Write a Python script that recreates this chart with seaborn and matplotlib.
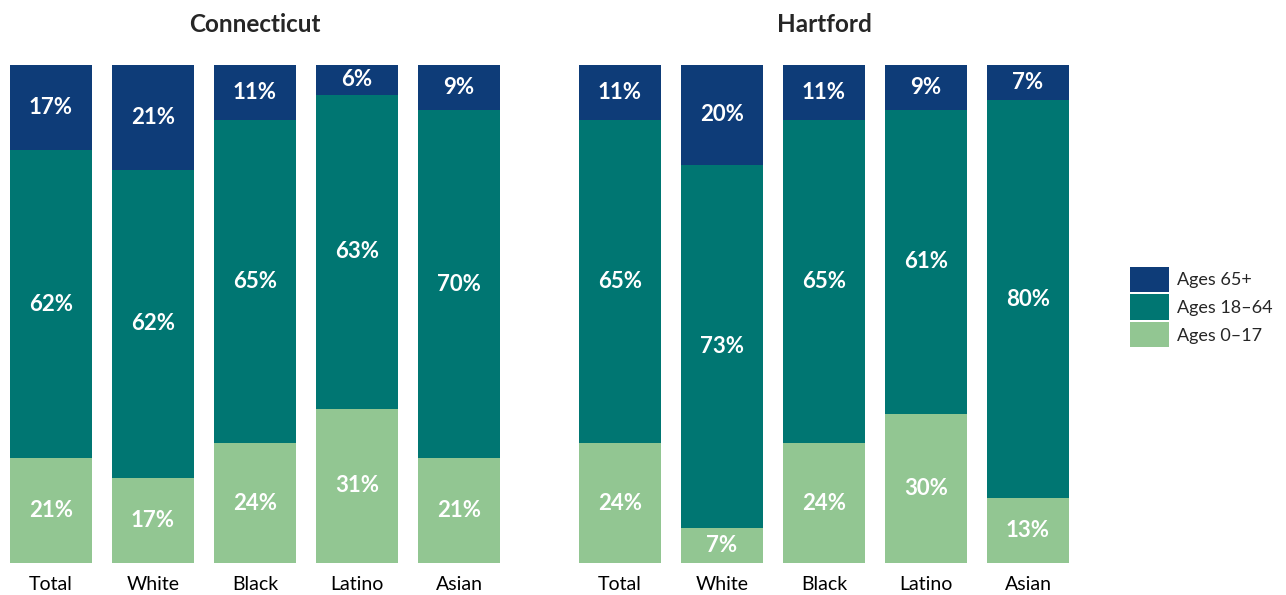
import matplotlib
matplotlib.use("Agg")
import matplotlib.pyplot as plt
import matplotlib.patches as mpatches
import pandas as pd
import seaborn as sns

groups = ["Total", "White", "Black", "Latino", "Asian"]
ct_0_17 = [21, 17, 24, 31, 21]
ct_18_64 = [62, 62, 65, 63, 70]
ct_65 = [17, 21, 11, 6, 9]
hf_0_17 = [24, 7, 24, 30, 13]
hf_18_64 = [65, 73, 65, 61, 80]
hf_65 = [11, 20, 11, 9, 7]

series_names = ["Ages 65+", "Ages 18\u201364", "Ages 0\u201317"]
colors = ["#0e3c78", "#007672", "#92c692"]

sns.set_theme(style="white")
plt.rcParams["font.family"] = ["Lato", "DejaVu Sans"]

W, H = 1286, 595
fig = plt.figure(figsize=(W / 100, H / 100), dpi=100)


def draw_panel(ax, title, young, mid, old):
    df = pd.DataFrame({"group": groups, "young": young, "mid": mid, "old": old})
    df["top"] = df["young"] + df["mid"] + df["old"]
    df["mid_top"] = df["young"] + df["mid"]
    # stacked look: full bar first, then the lower parts on top of it
    for col, c in zip(["top", "mid_top", "young"], colors):
        sns.barplot(data=df, x="group", y=col, color=c, width=0.804,
                    saturation=1, linewidth=0, ax=ax)
    for i, row in df.iterrows():
        for lo, val in [(0, row["young"]), (row["young"], row["mid"]),
                        (row["mid_top"], row["old"])]:
            ax.text(i, lo + val / 2, f"{val}%", ha="center", va="center",
                    color="white", fontsize=16, fontweight="bold")
    ax.set_xlim(-0.5, 4.5)
    ax.set_ylim(0, 100)
    ax.set_xlabel("")
    ax.set_ylabel("")
    ax.set_yticks([])
    ax.tick_params(axis="x", length=0, labelsize=14, colors="black", pad=9)
    sns.despine(ax=ax, left=True, bottom=True)
    ax.set_title(title, fontsize=17.5, fontweight="bold", pad=24)


bottom = (H - 563) / H
height = 498 / H
ax1 = fig.add_axes([0 / W, bottom, 510 / W, height])
ax2 = fig.add_axes([569 / W, bottom, 510 / W, height])
draw_panel(ax1, "Connecticut", ct_0_17, ct_18_64, ct_65)
draw_panel(ax2, "Hartford", hf_0_17, hf_18_64, hf_65)

handles = [mpatches.Patch(color=c, label=n, linewidth=0) for c, n in zip(colors, series_names)]
fig.legend(handles=handles, loc="center left", bbox_to_anchor=(1130 / W, 1 - 307 / H),
           frameon=False, fontsize=13, handlelength=2.15, handleheight=1.8,
           handletextpad=0.45, labelspacing=0.12, borderaxespad=0, borderpad=0)

fig.savefig("out.png", dpi=100)
